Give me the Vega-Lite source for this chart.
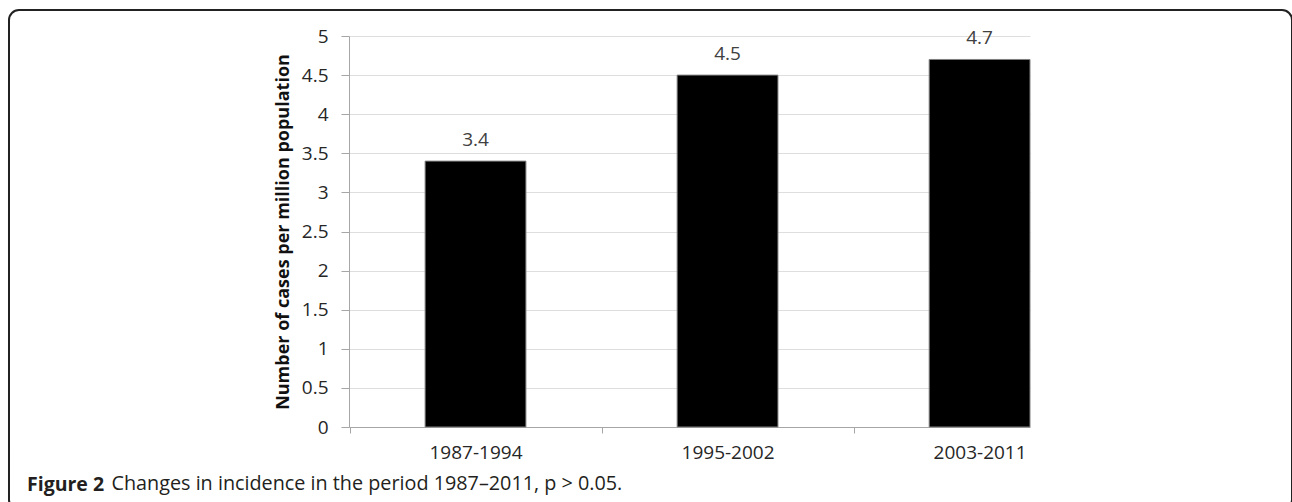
{
  "$schema": "https://vega.github.io/schema/vega-lite/v6.json",
  "width": 1283,
  "height": 500,
  "autosize": {"type": "none"},
  "padding": {"left": 9, "top": 10, "right": 0, "bottom": 0},
  "background": "white",
  "config": {
    "view": {"stroke": "#222222", "strokeWidth": 2, "cornerRadius": 10, "fill": "white"},
    "font": "Open Sans"
  },
  "title": {
    "text": "Figure 2",
    "orient": "top",
    "anchor": "start",
    "frame": "group",
    "fontSize": 19.5,
    "fontWeight": "bold",
    "color": "#231f20",
    "baseline": "alphabetic",
    "offset": 0,
    "dx": 18,
    "dy": 500
  },
  "data": {
    "values": [
      {"period": "1987-1994", "rate": 3.4},
      {"period": "1995-2002", "rate": 4.5},
      {"period": "2003-2011", "rate": 4.7}
    ]
  },
  "encoding": {
    "x": {
      "field": "period",
      "type": "nominal",
      "sort": null,
      "scale": {"range": [340, 1021], "paddingInner": 0.6, "paddingOuter": 0.151, "align": 1},
      "axis": {
        "title": "Changes in incidence in the period 1987–2011, p > 0.05.",
        "titleX": 102,
        "titleY": 62,
        "titleAnchor": "start",
        "titleAlign": "left",
        "titleBaseline": "alphabetic",
        "titleFontSize": 19.8,
        "titleFontWeight": "normal",
        "titleColor": "#231f20",
        "offset": -83,
        "domainColor": "#a6a6a6",
        "tickColor": "#a6a6a6",
        "tickSize": 6,
        "tickOffset": -126,
        "labelOffset": 126,
        "labelAngle": 0,
        "labelFontSize": 19,
        "labelColor": "#262626",
        "labelPadding": 10,
        "grid": false
      }
    },
    "y": {
      "field": "rate",
      "type": "quantitative",
      "scale": {"domain": [0, 5], "range": [417, 26], "nice": false},
      "axis": {
        "title": "Number of cases per million population",
        "titleFontSize": 18,
        "titleFontWeight": "bold",
        "titleColor": "#111111",
        "titlePadding": 9,
        "values": [0, 0.5, 1, 1.5, 2, 2.5, 3, 3.5, 4, 4.5, 5],
        "format": "~g",
        "offset": -340,
        "domainColor": "#a6a6a6",
        "tickColor": "#a6a6a6",
        "tickSize": 8,
        "labelFontSize": 19,
        "labelColor": "#262626",
        "labelPadding": 13,
        "grid": true,
        "gridColor": "#dedede"
      }
    }
  },
  "layer": [
    {"mark": {"type": "bar", "color": "black", "stroke": "#808080", "strokeWidth": 1}},
    {
      "mark": {"type": "text", "dy": -15, "baseline": "alphabetic", "fontSize": 19, "color": "#404040"},
      "encoding": {"text": {"field": "rate", "type": "quantitative", "format": ".1f"}}
    }
  ]
}
